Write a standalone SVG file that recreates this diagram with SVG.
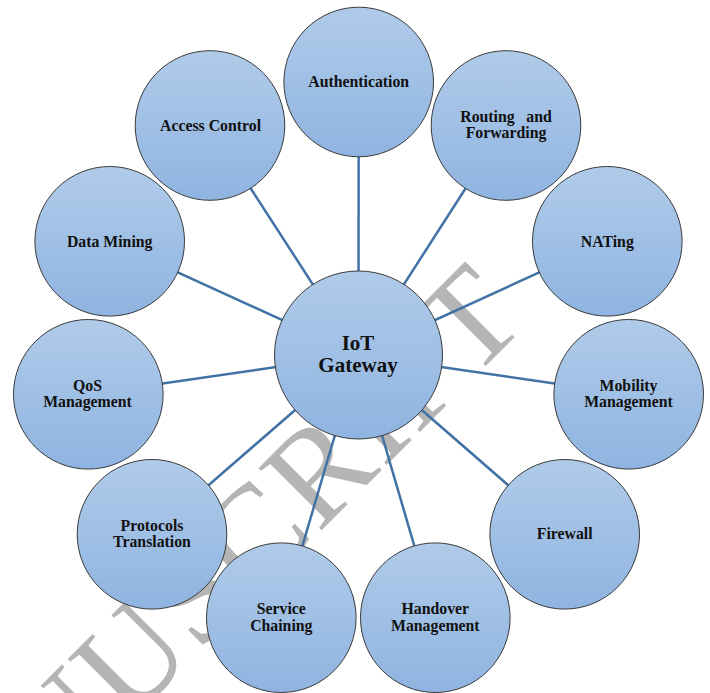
<svg xmlns="http://www.w3.org/2000/svg" width="710" height="693" viewBox="0 0 710 693">
<defs>
<linearGradient id="g" x1="0" y1="0" x2="0" y2="1">
<stop offset="0" stop-color="#b0cbe9"/>
<stop offset="1" stop-color="#8fb4e1"/>
</linearGradient>
<style>
.n{fill:url(#g);stroke:#3a3a3a;stroke-width:1}
.t{font-family:"Liberation Serif","Times New Roman",serif;font-weight:bold;font-size:15.8px;fill:#111;text-anchor:middle}
.b{font-size:21px}
.c{stroke:#4172a6;stroke-width:2.5;fill:none}
.wm{font-family:"Liberation Serif","Times New Roman",serif;font-size:135px;fill:#b5b5b5;letter-spacing:2px}
</style>
</defs>
<rect width="710" height="693" fill="#fff"/>
<text class="wm" transform="translate(-98.8,950.5) rotate(-45)">MANUSCRIPT</text>
<g id="connectors">
<line class="c" x1="358.5" y1="355" x2="358.7" y2="82"/>
<line class="c" x1="358.5" y1="355" x2="506" y2="125.5"/>
<line class="c" x1="358.5" y1="355" x2="210" y2="125.5"/>
<line class="c" x1="358.5" y1="355" x2="109.7" y2="241.3"/>
<line class="c" x1="358.5" y1="355" x2="607.3" y2="241.3"/>
<line class="c" x1="358.5" y1="355" x2="88.3" y2="394.3"/>
<line class="c" x1="358.5" y1="355" x2="628.7" y2="394.3"/>
<line class="c" x1="358.5" y1="355" x2="152" y2="534.3"/>
<line class="c" x1="358.5" y1="355" x2="564.7" y2="534.3"/>
<line class="c" x1="358.5" y1="355" x2="281.3" y2="617.7"/>
<line class="c" x1="358.5" y1="355" x2="435.3" y2="617.7"/>
</g>
<g id="authentication"><circle class="n" cx="358.7" cy="82" r="74.8"/><text class="t" x="358.7" y="87.3">Authentication</text></g>
<g id="routing"><circle class="n" cx="506" cy="125.5" r="74.8"/><text class="t" x="506" y="121.7" word-spacing="7.7">Routing and</text><text class="t" x="506" y="137.7">Forwarding</text></g>
<g id="access-control"><circle class="n" cx="210" cy="125.5" r="74.8"/><text class="t" x="210.5" y="130.5">Access Control</text></g>
<g id="data-mining"><circle class="n" cx="109.7" cy="241.3" r="74.8"/><text class="t" x="109.7" y="246.5">Data Mining</text></g>
<g id="nating"><circle class="n" cx="607.3" cy="241.3" r="74.8"/><text class="t" x="607.3" y="246.5">NATing</text></g>
<g id="qos"><circle class="n" cx="88.3" cy="394.3" r="74.8"/><text class="t" x="87.5" y="390.7">QoS</text><text class="t" x="87.5" y="406.7">Management</text></g>
<g id="mobility"><circle class="n" cx="628.7" cy="394.3" r="74.8"/><text class="t" x="628.5" y="390.7">Mobility</text><text class="t" x="628.5" y="406.7">Management</text></g>
<g id="protocols"><circle class="n" cx="152" cy="534.3" r="74.8"/><text class="t" x="152" y="530.7">Protocols</text><text class="t" x="152" y="546.7">Translation</text></g>
<g id="firewall"><circle class="n" cx="564.7" cy="534.3" r="74.8"/><text class="t" x="564.7" y="539.3">Firewall</text></g>
<g id="service-chaining"><circle class="n" cx="281.3" cy="617.7" r="74.8"/><text class="t" x="281.3" y="614">Service</text><text class="t" x="281.3" y="630.5">Chaining</text></g>
<g id="handover"><circle class="n" cx="435.3" cy="617.7" r="74.8"/><text class="t" x="435.3" y="614">Handover</text><text class="t" x="435.3" y="630.5">Management</text></g>
<g id="iot-gateway"><circle class="n" cx="358.5" cy="355" r="84"/><text class="t b" x="358" y="350">IoT</text><text class="t b" x="358" y="372">Gateway</text></g>
</svg>
